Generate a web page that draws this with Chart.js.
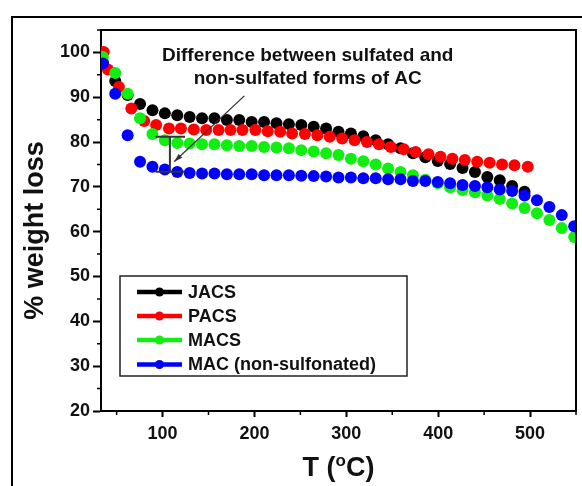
<!DOCTYPE html>
<html>
<head>
<meta charset="utf-8">
<script src="https://cdn.jsdelivr.net/npm/chart.js@4/dist/chart.umd.min.js"></script>
<style>
  html, body { margin: 0; padding: 0; background: #fff; }
  canvas { display: block; }
</style>
</head>
<body>
<canvas id="c" width="582" height="486"></canvas>
<script>
// ---- data ----
const temps = [35, 48.5, 62, 75.5, 89, 102.5, 116, 129.5, 143, 156.5, 170, 183.5, 197, 210.5, 224, 237.5, 251, 264.5, 278, 291.5, 305, 318.5, 332, 345.5, 359, 372.5, 386, 399.5, 413, 426.5, 440, 453.5, 467, 480.5, 494, 507.5, 521, 534.5, 548];
const tempsPACS = [36, 40.5, 52.5, 66, 80, 93, 107, 120, 134, 147.5, 161, 174, 187, 201, 214.5, 228, 241, 255, 268.5, 282, 295.5, 309, 322.5, 335.5, 348.5, 362.5, 375.5, 389.5, 402.5, 415.5, 429, 442.5, 456, 469.5, 483, 497.5];
const jacs = [97.8, 93.6, 90.5, 88.5, 87.1, 86.4, 86.0, 85.6, 85.3, 85.3, 84.9, 84.9, 84.5, 84.5, 84.2, 84.0, 83.8, 83.4, 83.0, 82.3, 81.9, 81.3, 80.4, 79.5, 78.6, 77.5, 76.6, 75.8, 75.1, 74.2, 73.3, 72.2, 71.5, 70.2, 68.9];
const pacs = [100.1, 96.2, 92.3, 87.5, 84.7, 83.8, 83.0, 83.0, 82.8, 82.7, 82.7, 82.7, 82.7, 82.7, 82.4, 82.3, 81.9, 81.8, 81.5, 81.2, 80.8, 80.4, 80.0, 79.5, 78.9, 78.4, 77.8, 77.3, 76.7, 76.3, 76.0, 75.6, 75.4, 75.0, 74.8, 74.5];
const macs = [99.0, 95.4, 90.8, 85.3, 81.8, 80.4, 79.8, 79.7, 79.5, 79.5, 79.3, 79.1, 79.1, 78.9, 78.8, 78.6, 78.2, 77.9, 77.5, 77.1, 76.3, 75.7, 75.0, 74.1, 73.3, 72.6, 71.6, 70.8, 69.9, 69.3, 68.8, 68.1, 67.3, 66.3, 65.3, 64.1, 62.6, 60.8, 58.8];
const mac = [97.5, 90.8, 81.5, 75.6, 74.5, 73.9, 73.3, 73.1, 73.0, 73.0, 72.8, 72.8, 72.8, 72.6, 72.6, 72.6, 72.5, 72.4, 72.3, 72.1, 72.1, 71.9, 71.9, 71.7, 71.7, 71.3, 71.3, 71.1, 70.8, 70.4, 70.2, 69.9, 69.4, 69.1, 68.1, 67.0, 65.5, 63.7, 61.2];
const seriesLabels = ['JACS', 'PACS', 'MACS', 'MAC (non-sulfonated)'];
const xTickValues = [100, 200, 300, 400, 500];
const xMinorValues = [50, 150, 250, 350, 450, 550];
const yTickValues = [20, 30, 40, 50, 60, 70, 80, 90, 100];
const yMinorValues = [25, 35, 45, 55, 65, 75, 85, 95, 105];
const annotationLines = ['Difference between sulfated and', 'non-sulfated forms of AC'];
// annotation anchors in data units (T, %)
const annotationTextAt = [258, 98.1];
const arrowFrom = [189, 90.3];
const arrowTo = [112.6, 75.6];
const gapBar = { t: 108, top: 81.2, bottom: 73.4, capFrom: 92.5, capTo: 124.5 };

const colors = ['#000000', '#ff0000', '#11ee11', '#0000ff'];
const FONT = '"Liberation Sans", Arial, Helvetica, sans-serif';

function pts(xs, ys) { return ys.map((y, i) => ({ x: xs[i], y })); }

const datasets = [
  { label: seriesLabels[0], data: pts(temps, jacs), order: 4 },
  { label: seriesLabels[1], data: pts(tempsPACS, pacs), order: 3 },
  { label: seriesLabels[2], data: pts(temps, macs), order: 2 },
  { label: seriesLabels[3], data: pts(temps, mac), order: 1 }
].map((d, i) => Object.assign(d, {
  backgroundColor: colors[i], borderColor: colors[i],
  pointRadius: 6, pointHoverRadius: 6, pointBorderWidth: 0, showLine: false
}));

const extras = {
  id: 'extras',
  beforeDraw(chart) {
    const ctx = chart.ctx;
    ctx.save();
    ctx.fillStyle = '#fff';
    ctx.fillRect(0, 0, chart.width, chart.height);
    ctx.restore();
  },
  afterDraw(chart) {
    const ctx = chart.ctx, a = chart.chartArea;
    const xs = chart.scales.x, ys = chart.scales.y;
    const px = v => xs.getPixelForValue(v), py = v => ys.getPixelForValue(v);
    ctx.save();
    // outer frame
    ctx.strokeStyle = '#000'; ctx.lineWidth = 2;
    ctx.strokeRect(12, 17, 700, 600);
    // plot box top/right
    ctx.lineWidth = 2;
    ctx.beginPath();
    ctx.moveTo(a.left, a.top); ctx.lineTo(a.right, a.top); ctx.lineTo(a.right, a.bottom);
    ctx.stroke();
    // minor ticks
    ctx.lineWidth = 1.5;
    ctx.beginPath();
    xMinorValues.forEach(v => { const x = px(v); ctx.moveTo(x, a.bottom); ctx.lineTo(x, a.bottom + 4); });
    yMinorValues.forEach(v => { const y = py(v); ctx.moveTo(a.left, y); ctx.lineTo(a.left - 4, y); });
    ctx.stroke();
    // annotation text
    ctx.fillStyle = '#111';
    ctx.font = 'bold 19px ' + FONT;
    ctx.textAlign = 'center'; ctx.textBaseline = 'alphabetic';
    const tx = px(annotationTextAt[0]), ty = py(annotationTextAt[1]);
    annotationLines.forEach((s, i) => ctx.fillText(s, tx, ty + i * 22.6));
    // arrow
    const x1 = px(arrowFrom[0]), y1 = py(arrowFrom[1]), x2 = px(arrowTo[0]), y2 = py(arrowTo[1]);
    ctx.strokeStyle = '#333'; ctx.fillStyle = '#333'; ctx.lineWidth = 1.3;
    ctx.beginPath(); ctx.moveTo(x1, y1); ctx.lineTo(x2, y2); ctx.stroke();
    const ang = Math.atan2(y2 - y1, x2 - x1), L = 9, W = 0.3;
    ctx.beginPath();
    ctx.moveTo(x2, y2);
    ctx.lineTo(x2 - L * Math.cos(ang - W), y2 - L * Math.sin(ang - W));
    ctx.lineTo(x2 - L * Math.cos(ang + W), y2 - L * Math.sin(ang + W));
    ctx.closePath(); ctx.fill();
    // gap bar
    ctx.strokeStyle = '#333'; ctx.lineWidth = 2;
    const gx = px(gapBar.t), gt = py(gapBar.top), gb = py(gapBar.bottom);
    ctx.beginPath();
    ctx.moveTo(gx, gt); ctx.lineTo(gx, gb);
    ctx.moveTo(px(gapBar.capFrom), gt); ctx.lineTo(px(gapBar.capTo), gt);
    ctx.moveTo(px(gapBar.capFrom), gb); ctx.lineTo(px(gapBar.capTo), gb);
    ctx.stroke();
    // legend
    ctx.strokeStyle = '#222'; ctx.lineWidth = 1.5;
    ctx.strokeRect(120, 276, 287, 100);
    ctx.font = 'bold 18px ' + FONT;
    ctx.textAlign = 'left'; ctx.textBaseline = 'middle';
    const rowY = [292, 316, 340, 364.5];
    chart.data.datasets.forEach((d, i) => {
      const y = rowY[i];
      ctx.strokeStyle = d.borderColor; ctx.fillStyle = d.backgroundColor; ctx.lineWidth = 4.5;
      ctx.beginPath(); ctx.moveTo(137, y); ctx.lineTo(182, y); ctx.stroke();
      ctx.beginPath(); ctx.arc(159.5, y, 4.5, 0, Math.PI * 2); ctx.fill();
      ctx.fillStyle = '#111';
      ctx.fillText(d.label, 188, y + 1);
    });
    // axis titles
    ctx.fillStyle = '#111';
    ctx.font = 'bold 27px ' + FONT;
    ctx.save();
    ctx.translate(43, (a.top + a.bottom) / 2 + 10);
    ctx.rotate(-Math.PI / 2);
    ctx.textAlign = 'center'; ctx.textBaseline = 'alphabetic';
    ctx.fillText('% weight loss', 0, 0);
    ctx.restore();
    // x title with superscript o
    const cx = (a.left + a.right) / 2, by = 476;
    ctx.textBaseline = 'alphabetic'; ctx.textAlign = 'left';
    const big = 'bold 27px ' + FONT, small = 'bold 17px ' + FONT;
    ctx.font = big; const w1 = ctx.measureText('T (').width, w3 = ctx.measureText('C)').width;
    ctx.font = small; const w2 = ctx.measureText('o').width;
    let x = cx - (w1 + w2 + w3) / 2;
    ctx.font = big; ctx.fillText('T (', x, by); x += w1;
    ctx.font = small; ctx.fillText('o', x, by - 10); x += w2;
    ctx.font = big; ctx.fillText('C)', x, by);
    ctx.restore();
  }
};

new Chart(document.getElementById('c'), {
  type: 'scatter',
  data: { datasets },
  options: {
    responsive: false,
    devicePixelRatio: 1,
    animation: false,
    layout: { padding: { top: 30, right: 2, left: 0, bottom: 0 } },
    plugins: { legend: { display: false }, tooltip: { enabled: false } },
    scales: {
      x: {
        type: 'linear', min: 33, max: 550,
        afterBuildTicks: s => { s.ticks = xTickValues.map(v => ({ value: v })); },
        afterFit: s => { s.height = 75; },
        grid: { drawOnChartArea: false, drawTicks: true, tickLength: 6, tickWidth: 2, tickColor: '#000' },
        border: { display: true, color: '#000', width: 2 },
        ticks: { color: '#111', font: { family: FONT, size: 18, weight: 'bold' }, padding: 6, maxRotation: 0 }
      },
      y: {
        type: 'linear', min: 20, max: 105,
        afterBuildTicks: s => { s.ticks = yTickValues.map(v => ({ value: v })); },
        afterFit: s => { s.width = 101; },
        grid: { drawOnChartArea: false, drawTicks: true, tickLength: 8, tickWidth: 2, tickColor: '#000' },
        border: { display: true, color: '#000', width: 2 },
        ticks: { color: '#111', font: { family: FONT, size: 18, weight: 'bold' }, padding: 3 }
      }
    }
  },
  plugins: [extras]
});
</script>
</body>
</html>
